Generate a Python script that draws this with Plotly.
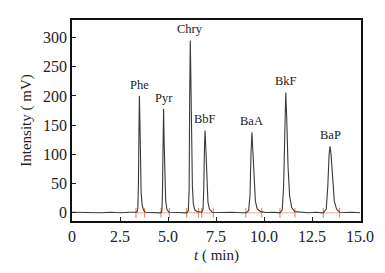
import plotly.graph_objects as go

# Chromatogram trace (time in min, intensity in mV)
time = [0.0, 0.5, 1.0, 1.5, 2.0, 2.5, 3.0, 3.3,
        3.38, 3.43, 3.46, 3.49, 3.51, 3.54, 3.57, 3.60, 3.65, 3.72, 3.82,
        4.2, 4.62, 4.68, 4.71, 4.74, 4.77, 4.80, 4.84, 4.88, 4.94, 5.05,
        5.5, 5.98, 6.06, 6.10, 6.13, 6.16, 6.19, 6.23, 6.27, 6.32, 6.40, 6.52, 6.64,
        6.75, 6.82, 6.86, 6.90, 6.93, 6.97, 7.02, 7.08, 7.16, 7.30,
        7.8, 8.3, 8.8, 9.08, 9.20, 9.27, 9.32, 9.37, 9.42, 9.48, 9.55, 9.64, 9.82,
        10.1, 10.5, 10.83, 10.95, 11.02, 11.08, 11.13, 11.18, 11.25, 11.33, 11.44, 11.60,
        11.9, 12.3, 12.7, 13.08, 13.24, 13.32, 13.39, 13.44, 13.49, 13.57, 13.66, 13.78, 13.94,
        14.2, 14.6, 15.0]
intensity = [1, 0.5, 1, 0, 1, 0, 1, 0,
             1, 8, 50, 150, 200, 150, 80, 35, 14, 5, 1,
             0.5, 0, 3, 30, 110, 178, 120, 55, 20, 6, 1,
             0.5, 0, 4, 40, 200, 295, 230, 120, 45, 15, 5, 2, 1,
             1, 5, 40, 115, 141, 110, 50, 18, 6, 1,
             0.5, 1, 0, 0, 4, 30, 100, 138, 105, 50, 20, 7, 2,
             0.5, 1, 0, 5, 45, 160, 206, 165, 80, 30, 9, 2,
             1, 0, 1, 0, 6, 45, 100, 114, 100, 55, 20, 6, 1,
             0.5, 1, 0]

# Peak labels
peak_names = ["Phe", "Pyr", "Chry", "BbF", "BaA", "BkF", "BaP"]
peak_times = [3.51, 4.77, 6.16, 6.93, 9.37, 11.13, 13.44]
peak_heights = [200, 178, 295, 141, 138, 206, 114]

# Integration start/end marks
int_start = [3.33, 4.64, 5.97, 6.75, 9.05, 10.83, 13.09]
int_end = [3.78, 5.07, 6.59, 7.36, 9.88, 11.61, 13.93]

x_ticks = [0, 2.5, 5.0, 7.5, 10.0, 12.5, 15.0]
x_tick_labels = ["0", "2.5", "5.0", "7.5", "10.0", "12.5", "15.0"]
y_ticks = [0, 50, 100, 150, 200, 250, 300]

fig = go.Figure()

# orange integration baselines
ox, oy = [], []
for s, e in zip(int_start, int_end):
    ox += [s, e, None]
    oy += [0, 0, None]
fig.add_trace(go.Scatter(x=ox, y=oy, mode="lines+markers",
                         line=dict(color="#EE9070", width=0.8),
                         marker=dict(symbol="line-ns-open", size=7,
                                     line=dict(color="#EE9070", width=1.2)),
                         hoverinfo="skip", showlegend=False))

fig.add_trace(go.Scatter(x=time, y=intensity, mode="lines",
                         line=dict(color="#3a3a3a", width=1.1),
                         showlegend=False))

for n, t, h in zip(peak_names, peak_times, peak_heights):
    fig.add_annotation(x=t, y=h, text=n, showarrow=False,
                       yanchor="bottom", yshift=2,
                       font=dict(family="Liberation Serif", size=12.5, color="#222"))

fig.update_layout(
    width=377, height=265,
    margin=dict(l=64, r=24, t=12, b=52),
    paper_bgcolor="white", plot_bgcolor="white",
    font=dict(family="Liberation Serif", color="#222"),
)
fig.update_xaxes(range=[0, 15.05], tickvals=x_ticks, ticktext=x_tick_labels,
                 ticks="inside", ticklen=4, tickcolor="#222",
                 showline=True, linecolor="#111", linewidth=1.5, mirror=True,
                 showgrid=False, zeroline=False, automargin=False,
                 tickfont=dict(size=16),
                 title=dict(text="<i>t</i> ( min)", font=dict(size=15), standoff=6))
fig.update_yaxes(range=[-14, 330], tickvals=y_ticks,
                 ticks="inside", ticklen=4, tickcolor="#222",
                 showline=True, linecolor="#111", linewidth=1.5, mirror=True,
                 showgrid=False, zeroline=False, automargin=False,
                 tickfont=dict(size=16),
                 title=dict(text="Intensity ( mV)", font=dict(size=15), standoff=8))

fig.write_html("out.html")
